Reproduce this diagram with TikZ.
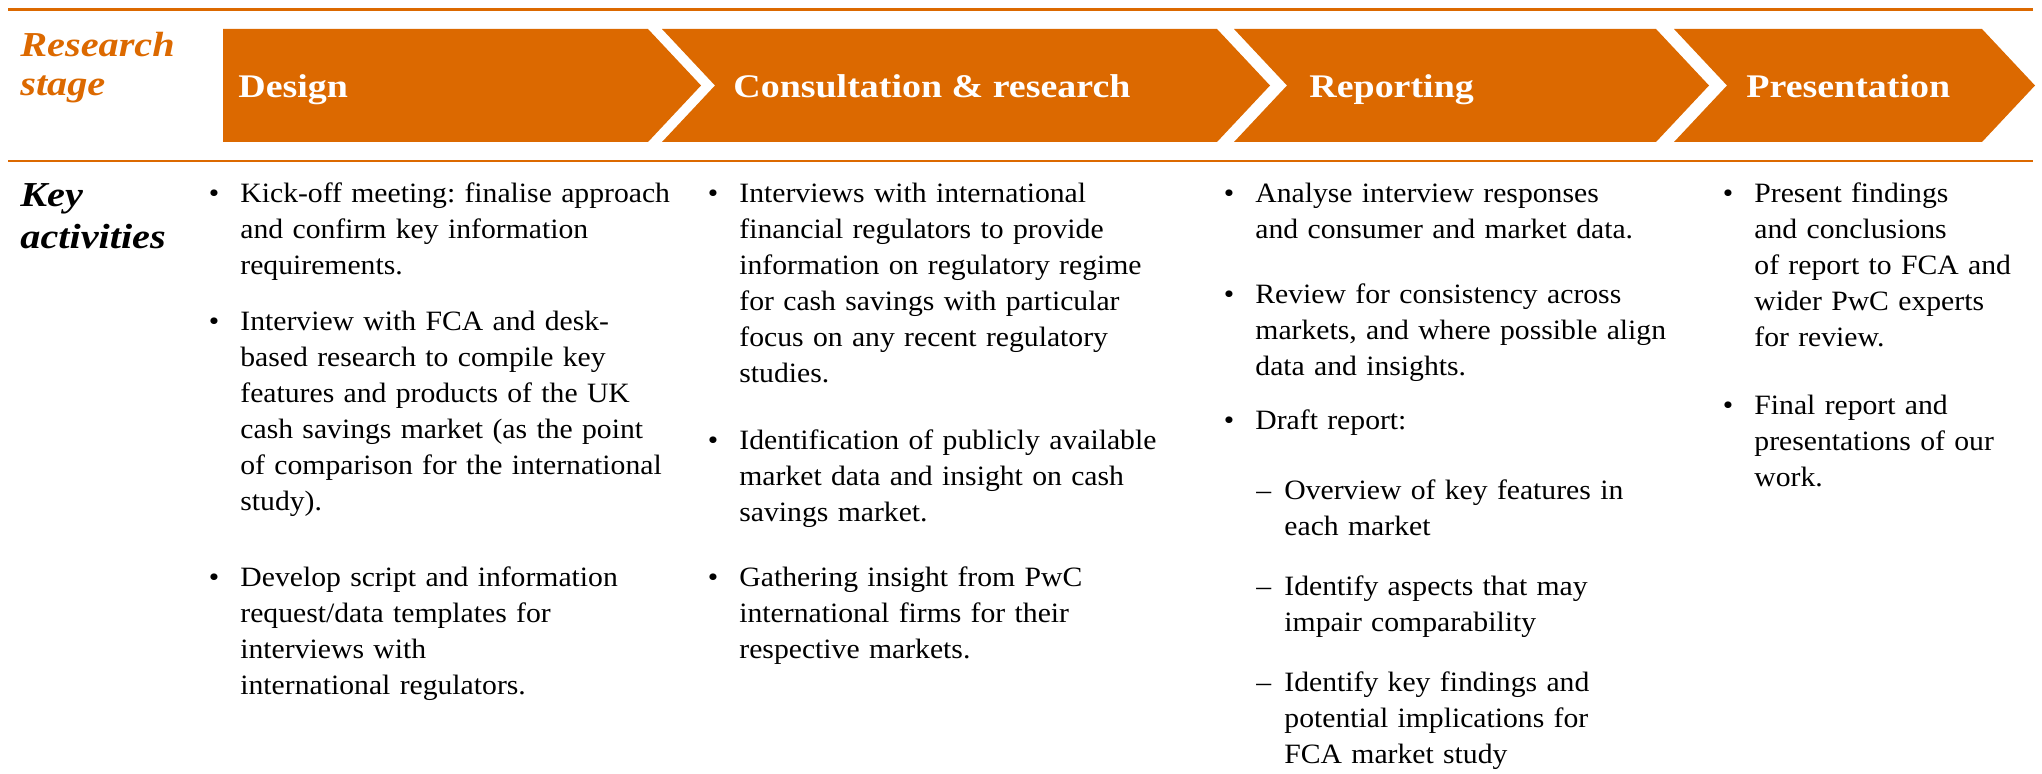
\documentclass[tikz,border=0pt]{standalone}
\usepackage{fontspec}
\setmainfont[FakeStretch=1.06]{Liberation Serif}
\newfontfamily\headfont[FakeStretch=1.15]{Liberation Serif}
\usepackage{tikz}
\frenchspacing

\definecolor{pwcorange}{HTML}{DC6900}

\tikzset{
    stagename/.style={anchor=base west, inner sep=0pt, text=white,
        font=\headfont\fontsize{16.5}{20}\selectfont\bfseries},
    rowhead/.style={anchor=base west, inner sep=0pt, text width=90pt, align=left,
        font=\headfont\fontsize{17.5}{19.5}\selectfont\bfseries\itshape},
    activity/.style={anchor=base west, inner sep=0pt, text width=240pt,
        align=left, font=\fontsize{14}{18}\selectfont},
    rule/.style={pwcorange, line width=1.1pt},
}

\begin{document}
\begin{tikzpicture}[x=0.5pt, y=-0.5pt]
                \useasboundingbox (0,0) rectangle (2042,774);

                % rules above and below the stage row
                \draw[rule] (8,9.5) -- (2033,9.5);
                \draw[rule] (8,161) -- (2033,161);

                % stage chevrons
                \fill[pwcorange] (223,29) -- (648,29) -- (701,85.5) -- (648,142) -- (223,142) -- cycle;
                \foreach \a/\b in {662/1217, 1234/1656, 1674/1982} {
                    \fill[pwcorange] (\a,29) -- (\b,29) -- (\b+53,85.5) -- (\b,142)
                        -- (\a,142) -- (\a+53,85.5) -- cycle;
                }

                \node[stagename] (design)  at (238,98)  {Design};
                \node[stagename] (consult) at (733,98)  {Consultation \& research};
                \node[stagename] (report)  at (1309,98) {Reporting};
                \node[stagename] (present) at (1746,98) {Presentation};

                % row headings
                \node[rowhead, text=pwcorange] (stage) at (20,57) {Research\\stage};
                \node[rowhead, font=\headfont\fontsize{17.5}{21}\selectfont\bfseries\itshape] (key) at (20,207) {Key\\activities};

                % design
                \node[activity] (d1) at (240,203) {Kick-off meeting: finalise approach\\and confirm key information\\requirements.};
                \node[activity] (d2) at (240,331) {Interview with FCA and desk-\\based research to compile key\\features and products of the UK\\cash savings market (as the point\\of comparison for the international\\study).};
                \node[activity] (d3) at (240,587) {Develop script and information\\request/data templates for\\interviews with\\international regulators.};

                % consultation & research
                \node[activity] (c1) at (739,203) {Interviews with international\\financial regulators to provide\\information on regulatory regime\\for cash savings with particular\\focus on any recent regulatory\\studies.};
                \node[activity] (c2) at (739,450) {Identification of publicly available\\market data and insight on cash\\savings market.};
                \node[activity] (c3) at (739,587) {Gathering insight from PwC\\international firms for their\\respective markets.};

                % reporting
                \node[activity] (r1) at (1255,203) {Analyse interview responses\\and consumer and market data.};
                \node[activity] (r2) at (1255,304) {Review for consistency across\\markets, and where possible align\\data and insights.};
                \node[activity] (r3) at (1255,430) {Draft report:};
                \node[activity] (s1) at (1284,500) {Overview of key features in\\each market};
                \node[activity] (s2) at (1284,596) {Identify aspects that may\\impair comparability};
                \node[activity] (s3) at (1284,692) {Identify key findings and\\potential implications for\\FCA market study};

                % presentation
                \node[activity] (p1) at (1754,203) {Present findings\\and conclusions\\of report to FCA and\\wider PwC experts\\for review.};
                \node[activity] (p2) at (1754,415) {Final report and\\presentations of our\\work.};

                \foreach \n in {d1, d2, d3, c1, c2, c3, r1, r2, r3, p1, p2} {
                    \node[anchor=base, font=\fontsize{14}{18}\selectfont] at ([xshift=-13pt]\n.base west) {\textbullet};
                }
                \foreach \n in {s1, s2, s3} {
                    \node[anchor=base west, inner sep=0pt, font=\fontsize{14}{18}\selectfont] at ([xshift=-14pt]\n.base west) {–};
                }
            \end{tikzpicture}
\end{document}
